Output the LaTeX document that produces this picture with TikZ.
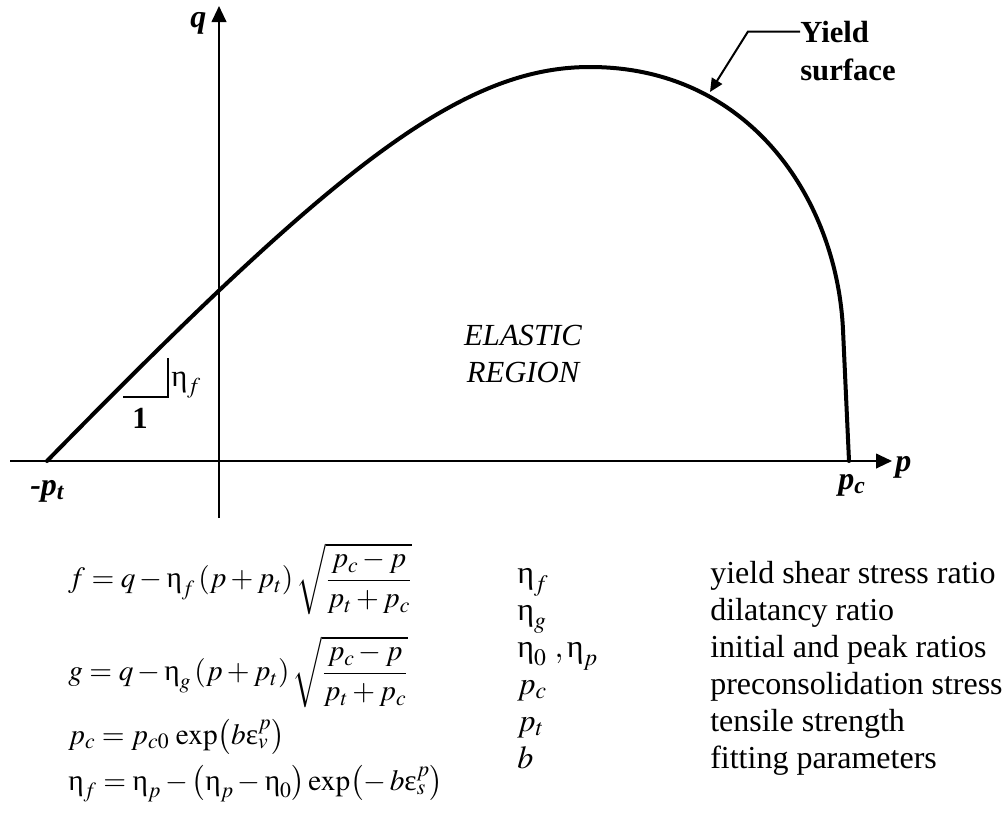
\documentclass[tikz,border=0pt]{standalone}
\usepackage{mathptmx}
\usepackage[no-math]{fontspec}
\setmainfont{Liberation Serif}
\usetikzlibrary{arrows.meta}
\newcommand{\ueta}{\mbox{η}}
\newcommand{\ueps}{\mbox{ε}}
\begin{document}
\begin{tikzpicture}[x=0.75pt,y=-0.75pt,
  curve/.style={line width=3pt, line join=round, line cap=round},
  axisline/.style={line width=1.5pt, -{Triangle[length=12pt,width=11pt]}},
  thinline/.style={line width=1.2pt},
  leader/.style={line width=1.5pt, -{Triangle[length=10pt,width=9pt]}},
  lbl/.style={font=\fontsize{24}{28}\selectfont\bfseries\itshape, inner sep=0pt, anchor=base west},
  txt/.style={font=\fontsize{24}{28}\selectfont, inner sep=0pt, anchor=base west},
  btxt/.style={font=\fontsize{23}{28}\selectfont\bfseries, inner sep=0pt, anchor=base west},
  itxt/.style={font=\fontsize{23}{28}\selectfont\itshape, inner sep=0pt, anchor=base},
  eq/.style={font=\fontsize{22}{26}\selectfont, inner sep=0pt, anchor=west}]
\useasboundingbox (0,0) rectangle (1006,818);

% axes
\coordinate (pstart) at (10,461);
\coordinate (pend) at (892,461);
\coordinate (qstart) at (219,518);
\coordinate (qend) at (219,6);
\draw[axisline] (pstart) -- (pend);
\draw[axisline] (qstart) -- (qend);

% yield surface
\coordinate (ys0) at (47,461);
\coordinate (ys1) at (590,67);
\coordinate (ys2) at (843,330);
\coordinate (ys3) at (849,461);
\draw[curve] (ys0) .. controls (333,169) and (460,67) .. (ys1)
  .. controls (750,67) and (837,200) .. (ys2) -- (ys3);

% axis labels
\node[lbl] (qlab) at (190,27) {q};
\node[lbl] (plab) at (895,471) {p};
\node[lbl] (pclab) at (838,489) {p\textsubscript{c}};
\node[lbl] (ptlab) at (30,495) {-p\textsubscript{t}};

% slope triangle
\coordinate (sa) at (123,397);
\coordinate (sb) at (168,397);
\coordinate (sc) at (168,358);
\draw[thinline] (sa) -- (sb) -- (sc);
\node[font=\fontsize{23}{28}\selectfont, inner sep=0pt, anchor=base west] (eta) at (171,386) {$\ueta_f$};
\node[btxt, anchor=base] (one) at (140,428) {1};

% elastic region
\node[itxt] (el) at (523,345) {ELASTIC};
\node[itxt] (rg) at (523,382) {REGION};

% yield surface label
\node[btxt] (yield) at (800,42) {Yield};
\node[btxt] (surf) at (800,80) {surface};
\coordinate (ybend) at (748,32);
\coordinate (ytip) at (710,92);
\draw[leader] (yield.west) -- (yield.west -| ybend) -- (ytip);

% equations
\node[eq] (eqf) at (68,579) {$\displaystyle f = q - \ueta_f\left(p + p_t\right)\sqrt{\frac{p_c - p}{p_t + p_c}}$};
\node[eq] (eqg) at (68,672) {$\displaystyle g = q - \ueta_g\left(p + p_t\right)\sqrt{\frac{p_c - p}{p_t + p_c}}$};
\node[eq] (eqp) at (68,737) {$p_c = p_{c0}\,\exp\bigl(b\ueps_v^p\bigr)$};
\node[eq] (eqe) at (68,784) {$\ueta_f = \ueta_p - \bigl(\ueta_p - \ueta_0\bigr)\exp\bigl(-\,b\ueps_s^p\bigr)$};

% legend
\node[txt] (s1) at (517,583) {$\ueta_f$};
\node[txt] (s2) at (517,620) {$\ueta_g$};
\node[txt] (s3) at (517,657) {$\ueta_0\ ,\ueta_p$};
\node[txt] (s4) at (517,694) {$p_c$};
\node[txt] (s5) at (517,731) {$p_t$};
\node[txt] (s6) at (517,768) {$b$};
\node[txt] (d1) at (710,583) {yield shear stress ratio};
\node[txt] (d2) at (710,620) {dilatancy ratio};
\node[txt] (d3) at (710,657) {initial and peak ratios};
\node[txt] (d4) at (710,694) {preconsolidation stress};
\node[txt] (d5) at (710,731) {tensile strength};
\node[txt] (d6) at (710,768) {fitting parameters};
\end{tikzpicture}
\end{document}
